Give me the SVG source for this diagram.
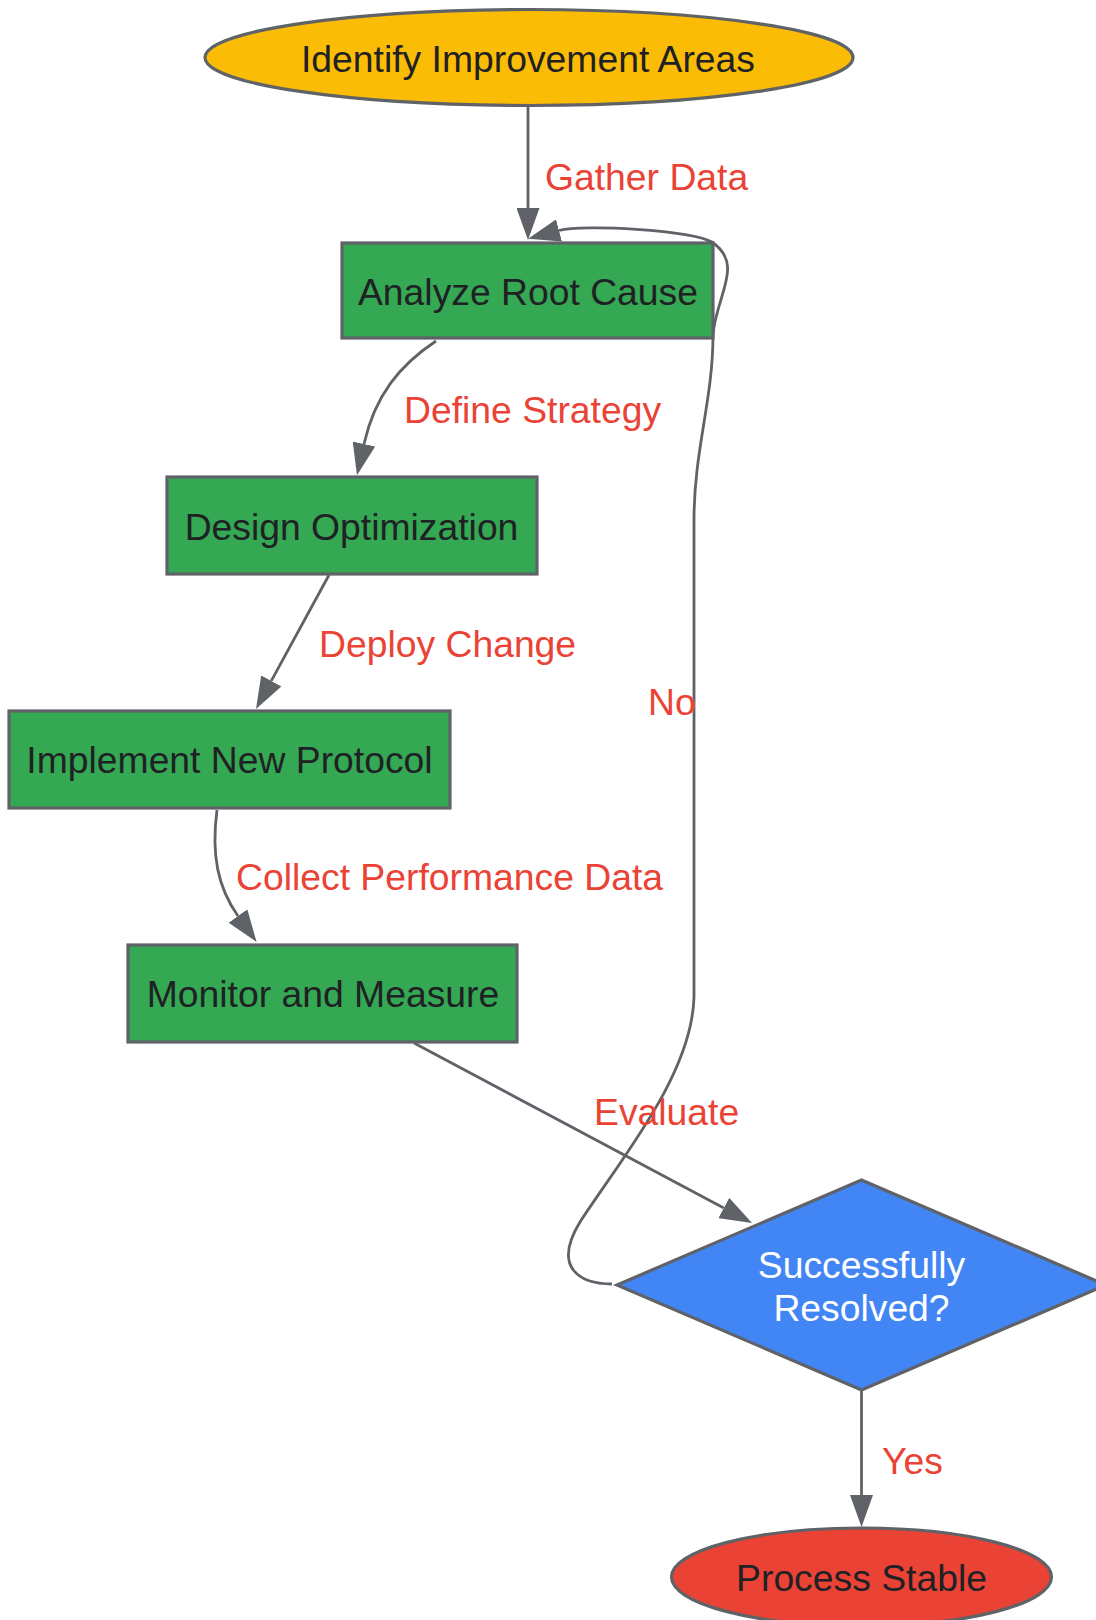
<svg xmlns="http://www.w3.org/2000/svg" width="1096" height="1620" viewBox="0 0 1096 1620">
<defs>
<marker id="arr" markerUnits="userSpaceOnUse" viewBox="0 0 32 23" markerWidth="32" markerHeight="23" refX="0" refY="11.5" orient="auto">
<path d="M0,0 L32,11.5 L0,23 z" fill="#5F6368"/>
</marker>
</defs>
<style>
.n{stroke:#5F6368;stroke-width:3.2}
.t{font-family:"Liberation Sans",Arial,sans-serif;font-size:37.3px;fill:#202124;text-anchor:middle}
.w{fill:#FFFFFF}
.l{font-family:"Liberation Sans",Arial,sans-serif;font-size:37.3px;fill:#EA4335}
.e{fill:none;stroke:#5F6368;stroke-width:2.8;marker-end:url(#arr)}
</style>
<rect width="1096" height="1620" fill="#FFFFFF"/>
<g id="connectors">
<path class="e" d="M528,105 L528,208"/>
<path class="e" d="M436,341 C400,365 375,395 364,444"/>
<path class="e" d="M329,575 L271.3,680.9"/>
<path class="e" d="M217,810 C211,855 218,888 238,916"/>
<path class="e" d="M414,1043 L723.8,1208"/>
<path class="e" d="M612,1284 C580,1284 552,1268 580,1222 C620,1160 692,1075 694,997 L694,520 C694,450 713,400 713,335 C716,295 745,265 712,242 C690,230 583,224 559,230.5"/>
<path class="e" d="M861.5,1390 L861.5,1495"/>
<text class="l" x="545" y="190">Gather Data</text>
<text class="l" x="404" y="423">Define Strategy</text>
<text class="l" x="319" y="657">Deploy Change</text>
<text class="l" x="236" y="890">Collect Performance Data</text>
<text class="l" x="594" y="1125">Evaluate</text>
<text class="l" x="648" y="715">No</text>
<text class="l" x="882" y="1474">Yes</text>
</g>
<g id="identify">
<ellipse class="n" cx="529" cy="57.5" rx="324" ry="48" fill="#FBBC05"/>
<text class="t" x="528" y="72">Identify Improvement Areas</text>
</g>
<g id="analyze">
<rect class="n" x="342" y="243" width="371" height="95" fill="#34A853"/>
<text class="t" x="528" y="305">Analyze Root Cause</text>
</g>
<g id="design">
<rect class="n" x="167" y="477" width="370" height="97" fill="#34A853"/>
<text class="t" x="351.5" y="540">Design Optimization</text>
</g>
<g id="implement">
<rect class="n" x="9" y="711" width="441" height="97" fill="#34A853"/>
<text class="t" x="229.5" y="773">Implement New Protocol</text>
</g>
<g id="monitor">
<rect class="n" x="128" y="945" width="389" height="97" fill="#34A853"/>
<text class="t" x="323" y="1007">Monitor and Measure</text>
</g>
<g id="decision">
<polygon class="n" points="861.5,1180 1106,1285 861.5,1390 617,1285" fill="#4285F4"/>
<text class="t w" x="861.5" y="1278">Successfully</text>
<text class="t w" x="861.5" y="1321">Resolved?</text>
</g>
<g id="stable">
<ellipse class="n" cx="861.5" cy="1577" rx="190" ry="49" fill="#EA4335"/>
<text class="t" x="861.5" y="1591">Process Stable</text>
</g>
</svg>
